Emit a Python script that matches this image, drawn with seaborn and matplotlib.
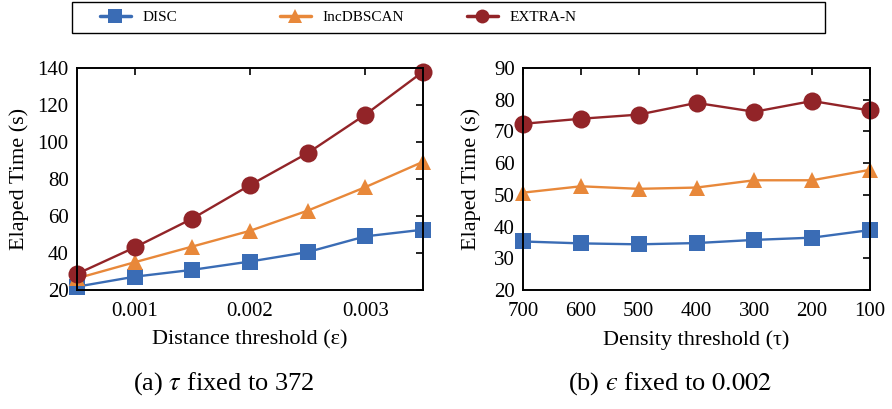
import numpy as np
import pandas as pd
import matplotlib
matplotlib.use("Agg")
import matplotlib.pyplot as plt
import seaborn as sns
from matplotlib.lines import Line2D
from matplotlib.patches import Rectangle

methods = ["DISC", "IncDBSCAN", "EXTRA-N"]
eps_values = [0.0005, 0.001, 0.0015, 0.002, 0.0025, 0.003, 0.0035]
disc_a = [21.8, 27.2, 30.9, 35.4, 40.5, 49.0, 52.6]
inc_a = [26.3, 35.0, 43.5, 52.0, 62.9, 75.6, 89.3]
extra_a = [28.7, 43.0, 58.6, 76.7, 94.0, 114.8, 138.0]

tau_values = [700, 600, 500, 400, 300, 200, 100]
disc_b = [35.3, 34.7, 34.4, 34.8, 35.8, 36.5, 38.9]
inc_b = [50.7, 52.7, 51.9, 52.3, 54.6, 54.6, 57.9]
extra_b = [72.4, 74.0, 75.3, 79.0, 76.2, 79.6, 76.6]

colors = {"DISC": "#3a6cb5", "IncDBSCAN": "#e8883a", "EXTRA-N": "#922428"}
markers = {"DISC": "s", "IncDBSCAN": "^", "EXTRA-N": "o"}
msizes = {"DISC": 12, "IncDBSCAN": 12, "EXTRA-N": 13}

sns.set_theme(style="white")
plt.rcParams["font.family"] = ["Liberation Serif", "DejaVu Serif"]
plt.rcParams["mathtext.fontset"] = "stix"
plt.rcParams["text.color"] = "black"
plt.rcParams["axes.labelcolor"] = "black"

def long_df(x, series):
    rows = []
    for m, vals in zip(methods, series):
        for xi, v in zip(x, vals):
            rows.append({"x": xi, "time": v, "method": m})
    return pd.DataFrame(rows)

df_a = long_df(eps_values, [disc_a, inc_a, extra_a])
df_b = long_df(tau_values, [disc_b, inc_b, extra_b])

fig = plt.figure(figsize=(8.92, 4.09), dpi=100)
ax1 = fig.add_axes([77/892, 1-290/409, 346/892, 222/409])
ax2 = fig.add_axes([523/892, 1-290/409, 347/892, 222/409])

for ax, df in [(ax1, df_a), (ax2, df_b)]:
    sns.lineplot(data=df, x="x", y="time", hue="method", style="method",
                 palette=colors, markers=markers, dashes=False, ax=ax,
                 linewidth=1.7, markersize=12, markeredgewidth=0,
                 hue_order=methods, style_order=methods, legend=False)
    for line, m in zip(ax.lines, methods):
        line.set_markersize(msizes[m])
        line.set_clip_on(False)
    for s in ax.spines.values():
        s.set_color("black")
        s.set_linewidth(1.4)
    ax.tick_params(direction="in", top=True, right=True, length=5,
                   width=1.2, labelsize=15, colors="black")
    ax.tick_params(axis="x", pad=9)
    ax.tick_params(axis="y", pad=6)

ax1.set_ylabel("Elaped Time (s)", fontsize=16, labelpad=6)
ax2.set_ylabel("Elaped Time (s)", fontsize=16, labelpad=9)

ax1.set_xlim(0.0005, 0.0035)
ax1.set_ylim(20, 140)
ax1.set_xticks([0.001, 0.002, 0.003])
ax1.set_xticklabels(["0.001", "0.002", "0.003"])
ax1.set_yticks([20, 40, 60, 80, 100, 120, 140])
ax1.set_xlabel("Distance threshold (ε)", fontsize=16, labelpad=6)

ax2.set_xlim(700, 100)
ax2.set_ylim(20, 90)
ax2.set_xticks(tau_values)
ax2.set_yticks([20, 30, 40, 50, 60, 70, 80, 90])
ax2.set_xlabel("Density threshold (τ)", fontsize=16, labelpad=6)

# legend: one entry per method, placed along a framed strip
starts = [100, 280, 467]
for m, xs in zip(methods, starts):
    h = Line2D([], [], color=colors[m], marker=markers[m], markersize=10,
               linewidth=2.5, markeredgewidth=0)
    fig.legend([h], [m], loc="center left", bbox_to_anchor=(xs/892, 1-17.5/409),
               frameon=False, fontsize=11, handlelength=2.0, handletextpad=0.8,
               borderpad=0, borderaxespad=0)
fig.patches.append(Rectangle((72/892, 1-33/409), 753/892, 31/409, transform=fig.transFigure,
                             fill=False, edgecolor="black", linewidth=1.0))

fig.text(223/892, 1-384/409, r"(a) $\tau$ fixed to 372", ha="center", va="center", fontsize=19)
fig.text(670/892, 1-384/409, "(b) $\u03f5$ fixed to $0.002$", ha="center", va="center", fontsize=19)

fig.savefig("out.png", dpi=100)
